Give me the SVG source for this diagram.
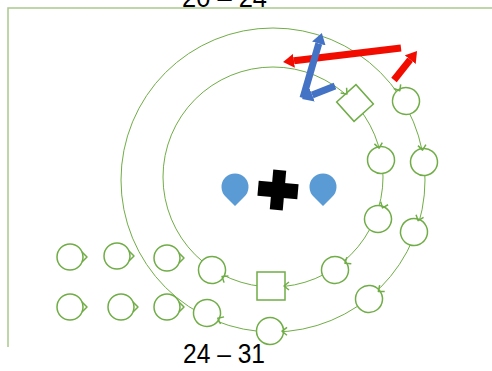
<svg xmlns="http://www.w3.org/2000/svg" width="492" height="371" viewBox="0 0 492 371">
<style>
.frame{fill:none;stroke:#a9c98c;stroke-width:1.5}
.ring{fill:none;stroke:#70ad47;stroke-width:1}
.node{fill:#fff;stroke:#70ad47;stroke-width:1.5}
.tip{fill:none;stroke:#70ad47;stroke-width:1.5;stroke-linejoin:round}
.red{stroke:#f20c00;stroke-width:7;fill:none}
.blue{stroke:#4472c4;stroke-width:7;fill:none}
.drop{fill:#5b9bd5}
.lbl{font-family:"Liberation Sans",Arial,sans-serif;font-size:28px;fill:#000}
</style>
<defs>
<marker id="hr" viewBox="0 -7 11 14" markerWidth="11" markerHeight="14" refX="0" refY="0" orient="auto" markerUnits="userSpaceOnUse"><path d="M0,-7 L11,0 L0,7 Z" fill="#f20c00"/></marker>
<marker id="hb" viewBox="0 -7 11 14" markerWidth="11" markerHeight="14" refX="0" refY="0" orient="auto" markerUnits="userSpaceOnUse"><path d="M0,-7 L11,0 L0,7 Z" fill="#4472c4"/></marker>
<g id="rc"><circle class="node" r="13.5"/><path class="tip" d="M-17,-4 L-12,0 L-17,4"/></g>
<g id="sc"><circle class="node" r="13"/><path class="tip" d="M12,-5 L17,0 L12,5"/></g>
<path id="dr" d="M0,19 L-9,10 A13.5,13.5 0 1 1 9,10 Z"/>
</defs>

<path class="frame" d="M492,8 H8 V347"/>

<text class="lbl" x="182" y="7" textLength="85" lengthAdjust="spacingAndGlyphs">20 – 24</text>
<text class="lbl" x="183" y="363" textLength="82" lengthAdjust="spacingAndGlyphs">24 – 31</text>

<g id="connectors">
<circle class="ring" cx="273" cy="180" r="152"/>
<circle class="ring" cx="273" cy="177" r="110"/>
<path class="red" d="M401,48 L294,60.7" marker-end="url(#hr)"/>
<path class="red" d="M394,80 L410.2,59.6" marker-end="url(#hr)"/>
<path class="blue" d="M303,98 L318.8,43.5" marker-end="url(#hb)"/>
<path class="blue" d="M335,86 L312.2,95" marker-end="url(#hb)"/>
</g>

<!-- outer ring nodes -->
<g id="o1"><use href="#rc" transform="translate(406,101) rotate(59)"/></g>
<g id="o2"><use href="#rc" transform="translate(424,162) rotate(83)"/></g>
<g id="o3"><use href="#rc" transform="translate(414,232) rotate(110)"/></g>
<g id="o4"><use href="#rc" transform="translate(369,299) rotate(141)"/></g>
<g id="o5"><use href="#rc" transform="translate(270,331) rotate(181)"/></g>
<g id="o6"><use href="#rc" transform="translate(207,313) rotate(206)"/></g>

<!-- inner ring nodes -->
<g id="i1" transform="translate(355,103) rotate(48)"><rect class="node" x="-13" y="-13" width="26" height="26"/><path class="tip" d="M-17,-4 L-12,0 L-17,4"/></g>
<g id="i2"><use href="#rc" transform="translate(381,160) rotate(81)"/></g>
<g id="i3"><use href="#rc" transform="translate(378,219) rotate(112)"/></g>
<g id="i4"><use href="#rc" transform="translate(335,270) rotate(146)"/></g>
<g id="i5" transform="translate(271,286)"><rect class="node" x="-14" y="-14" width="28" height="28"/><path class="tip" d="M18,-4 L13,0 L18,4"/></g>
<g id="i6"><use href="#rc" transform="translate(212,270) rotate(213)"/></g>

<!-- standalone nodes -->
<g id="s1"><use href="#sc" transform="translate(70,257)"/></g>
<g id="s2"><use href="#sc" transform="translate(117,256)"/></g>
<g id="s3"><use href="#sc" transform="translate(167,258)"/></g>
<g id="s4"><use href="#sc" transform="translate(70,307)"/></g>
<g id="s5"><use href="#sc" transform="translate(121,307)"/></g>
<g id="s6"><use href="#sc" transform="translate(167,307)"/></g>

<!-- center -->
<g id="dropL"><use href="#dr" class="drop" transform="translate(235,187)"/></g>
<g id="cross" transform="translate(278,190) rotate(5)"><rect x="-20" y="-7.5" width="40" height="15" fill="#000"/><rect x="-6.5" y="-20" width="13" height="40" fill="#000"/></g>
<g id="dropR"><use href="#dr" class="drop" transform="translate(323,187)"/></g>
</svg>
